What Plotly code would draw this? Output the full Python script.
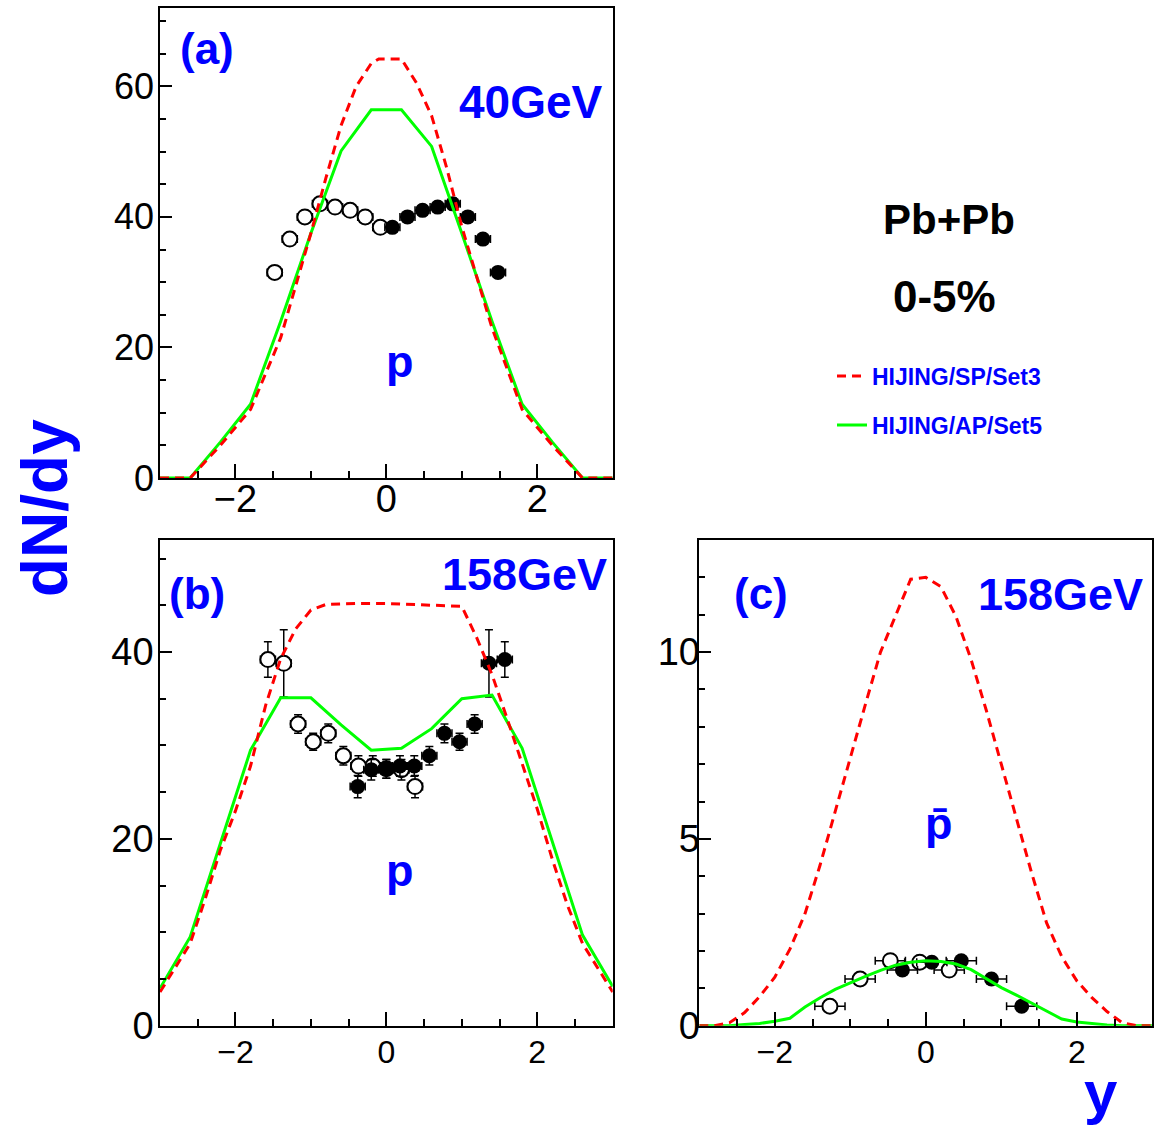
import plotly.graph_objects as go

# ---------------- data ----------------
# (a) Pb+Pb 40 GeV, protons
a_model_y = [-3.0, -2.6, -2.2, -1.8, -1.4, -1.0, -0.6, -0.2, 0.2, 0.6, 1.0, 1.4, 1.8, 2.2, 2.6, 3.0]
a_ap_set5 = [0, 0, 5.5, 11.3, 24.0, 37.5, 50.1, 56.4, 56.4, 50.8, 37.5, 24.0, 11.3, 5.5, 0, 0]
a_sp_y = [-3.0, -2.6, -2.2, -1.8, -1.4, -1.0, -0.8, -0.6, -0.4, -0.2, -0.1, 0.2, 0.4, 0.6, 0.8, 1.0, 1.4, 1.8, 2.2, 2.6, 3.0]
a_sp_set3 = [0, 0, 5.0, 10.5, 21.5, 37.5, 46.0, 54.0, 60.0, 63.5, 64.2, 64.2, 60.5, 55.5, 47.5, 38.5, 23.0, 10.5, 5.0, 0, 0]
a_meas_y = [0.08, 0.28, 0.48, 0.68, 0.88, 1.08, 1.28, 1.48]
a_meas = [38.4, 40.0, 41.0, 41.5, 42.0, 40.0, 36.6, 31.5]
a_meas_err = [0.8, 0.8, 0.8, 0.8, 0.9, 0.8, 0.8, 0.8]

# (b) Pb+Pb 158 GeV, protons
b_model_y = [-3.0, -2.6, -2.2, -1.8, -1.4, -1.0, -0.6, -0.2, 0.2, 0.6, 1.0, 1.4, 1.8, 2.2, 2.6, 3.0]
b_ap_set5 = [4.0, 9.5, 19.5, 29.5, 35.1, 35.1, 32.2, 29.5, 29.7, 31.8, 35.0, 35.4, 29.7, 19.6, 9.7, 4.2]
b_sp_y = [-3.0, -2.6, -2.4, -2.2, -2.0, -1.8, -1.6, -1.4, -1.2, -1.0, -0.8, -0.4, 0.0, 0.4, 0.8, 1.0,
          1.2, 1.4, 1.6, 1.8, 2.0, 2.2, 2.4, 2.6, 3.0]
b_sp_set3 = [3.6, 8.8, 13.6, 18.8, 23.0, 27.8, 34.3, 39.3, 42.5, 44.5, 45.1, 45.2, 45.2, 45.1, 45.0, 44.9,
             41.5, 37.6, 32.9, 28.1, 23.2, 17.8, 12.9, 8.8, 3.6]
b_meas_y = [-0.38, -0.2, 0.0, 0.18, 0.37, 0.57, 0.77, 0.97, 1.17, 1.36, 1.57]
b_meas = [25.6, 27.4, 27.5, 27.8, 27.8, 28.9, 31.3, 30.4, 32.3, 38.8, 39.2]
b_meas_err = [1.2, 1.1, 1.0, 1.1, 1.1, 1.0, 1.0, 0.9, 1.0, 3.6, 1.9]

# (c) Pb+Pb 158 GeV, antiprotons
c_model_y = [-3.0, -2.8, -2.6, -2.4, -2.2, -2.0, -1.8, -1.6, -1.4, -1.2, -1.0, -0.8, -0.6, -0.4, -0.2, 0.0,
             0.2, 0.4, 0.6, 0.8, 1.0, 1.2, 1.4, 1.6, 1.8, 2.0, 2.2, 2.4, 2.6, 2.8, 3.0]
c_sp_set3 = [0, 0, 0.08, 0.35, 0.78, 1.3, 2.05, 3.0, 4.3, 5.75, 7.15, 8.6, 10.0, 11.0, 11.95, 12.0,
             11.75, 10.95, 9.8, 8.45, 7.0, 5.5, 4.1, 2.75, 1.85, 1.2, 0.75, 0.38, 0.08, 0, 0]
c_ap_set5 = [0, 0, 0, 0.03, 0.06, 0.12, 0.2, 0.5, 0.75, 0.97, 1.15, 1.32, 1.48, 1.62, 1.70, 1.74,
             1.72, 1.65, 1.50, 1.27, 1.02, 0.82, 0.6, 0.38, 0.18, 0.1, 0.05, 0.02, 0, 0, 0]
c_meas_y = [-0.31, 0.08, 0.47, 0.87, 1.27]
c_meas = [1.49, 1.70, 1.74, 1.25, 0.52]
c_meas_err = [0.06, 0.06, 0.06, 0.06, 0.05]
c_meas_yerr = [0.2, 0.2, 0.2, 0.2, 0.2]

SP_NAME = "HIJING/SP/Set3"
AP_NAME = "HIJING/AP/Set5"

# ---------------- styling ----------------
W, H = 1157, 1134
FONT = "Liberation Sans, Arial, Helvetica, sans-serif"
BLUE = "#0000ff"
RED = "#ff0000"
GREEN = "#00ff00"


def px(x):
    return x / W


def py(y):
    return 1 - y / H


fig = go.Figure()


def add_panel(k, sp_x, sp, ap_x, ap, meas_x, meas, err, xerr, show_leg):
    xa = "x" if k == 1 else f"x{k}"
    ya = "y" if k == 1 else f"y{k}"
    refl_x = [-v for v in meas_x]
    ebar = dict(type="data", color="black", thickness=1.5, width=4)
    # reflected points (open symbols; white fill hides the bars inside)
    fig.add_trace(go.Scatter(
        x=refl_x, y=meas, mode="markers", xaxis=xa, yaxis=ya, showlegend=False,
        marker=dict(symbol="circle", size=15, color="white", line=dict(width=2, color="black")),
        error_y=dict(array=err, **ebar), error_x=dict(array=xerr, **ebar)))
    # measured points (filled symbols)
    fig.add_trace(go.Scatter(
        x=meas_x, y=meas, mode="markers", xaxis=xa, yaxis=ya, showlegend=False,
        marker=dict(symbol="circle", size=15, color="black"),
        error_y=dict(array=err, **ebar), error_x=dict(array=xerr, **ebar)))
    fig.add_trace(go.Scatter(
        x=ap_x, y=ap, mode="lines", xaxis=xa, yaxis=ya, name=AP_NAME,
        line=dict(color=GREEN, width=3), showlegend=show_leg, legend="legend2"))
    fig.add_trace(go.Scatter(
        x=sp_x, y=sp, mode="lines", xaxis=xa, yaxis=ya, name=SP_NAME,
        line=dict(color=RED, width=3, dash="9px,6px"), showlegend=show_leg, legend="legend"))


add_panel(1, a_sp_y, a_sp_set3, a_model_y, a_ap_set5, a_meas_y, a_meas, a_meas_err,
          [0.1] * len(a_meas_y), True)
add_panel(2, b_sp_y, b_sp_set3, b_model_y, b_ap_set5, b_meas_y, b_meas, b_meas_err,
          [0.1] * len(b_meas_y), False)
add_panel(3, c_model_y, c_sp_set3, c_model_y, c_ap_set5, c_meas_y, c_meas, c_meas_err,
          c_meas_yerr, False)


def xaxis_style(dom, anchor, fs, standoff):
    return dict(domain=dom, anchor=anchor, range=[-3, 3], tick0=0, dtick=2,
                ticks="inside", ticklen=14, tickwidth=1.5, tickcolor="black",
                minor=dict(dtick=0.5, ticks="inside", ticklen=7, tickwidth=1.5, tickcolor="black"),
                showline=True, linecolor="black", linewidth=1.5, mirror=True,
                showgrid=False, zeroline=False, automargin=False,
                ticklabelstandoff=standoff,
                tickfont=dict(family=FONT, size=fs, color="black"))


def yaxis_style(dom, anchor, rng, dt, mdt, fs, standoff):
    return dict(domain=dom, anchor=anchor, range=rng, tick0=0, dtick=dt,
                ticks="inside", ticklen=12, tickwidth=1.5, tickcolor="black",
                minor=dict(dtick=mdt, ticks="inside", ticklen=6, tickwidth=1.5, tickcolor="black"),
                showline=True, linecolor="black", linewidth=1.5, mirror=True,
                showgrid=False, zeroline=False, automargin=False,
                ticklabelstandoff=standoff,
                tickfont=dict(family=FONT, size=fs, color="black"))


left_dom = [px(160), px(612.7)]
right_dom = [px(699.3), px(1152.3)]
top_dom = [py(478), py(8)]
bot_dom = [py(1025.7), py(540)]

annos = []


def text(s, x, y, size, color=BLUE, angle=0):
    annos.append(dict(text=s, x=px(x), y=py(y), xref="paper", yref="paper",
                      xanchor="center", yanchor="middle", showarrow=False, textangle=angle,
                      font=dict(family=FONT, size=size, color=color, weight="bold")))


text("(a)", 207, 48, 44)
text("40GeV", 531, 102, 46)
text("p", 400, 362, 45)
text("(b)", 197, 593, 44)
text("158GeV", 524, 574, 45)
text("p", 400, 870, 45)
text("(c)", 761, 593, 44)
text("158GeV", 1060, 594, 45)
text("p\u0304", 939, 823, 45)
text("Pb+Pb", 949, 219, 42, "black")
text("0-5%", 944, 296, 44, "black")
text("dN/dy", 45, 508, 64, angle=-90)
text("y", 1101, 1092, 60)

leg_common = dict(xanchor="left", yanchor="middle", bgcolor="rgba(0,0,0,0)", borderwidth=0,
                  font=dict(family=FONT, size=23, color=BLUE, weight="bold"))

fig.update_layout(
    template="none",
    width=W, height=H, autosize=False,
    margin=dict(l=0, r=0, t=0, b=0, pad=0),
    paper_bgcolor="white", plot_bgcolor="white",
    xaxis=xaxis_style(left_dom, "y", 38, -13),
    yaxis=yaxis_style(top_dom, "x", [0, 72], 20, 5, 36, -3),
    xaxis2=xaxis_style(left_dom, "y2", 32, -3),
    yaxis2=yaxis_style(bot_dom, "x2", [0, 52], 20, 5, 38, -3),
    xaxis3=xaxis_style(right_dom, "y3", 32, -3),
    yaxis3=yaxis_style(bot_dom, "x3", [0, 13], 5, 1, 38, -10),
    legend=dict(x=px(832), y=py(376), **leg_common),
    legend2=dict(x=px(832), y=py(425), **leg_common),
    annotations=annos,
)

fig.write_html("out.html")
